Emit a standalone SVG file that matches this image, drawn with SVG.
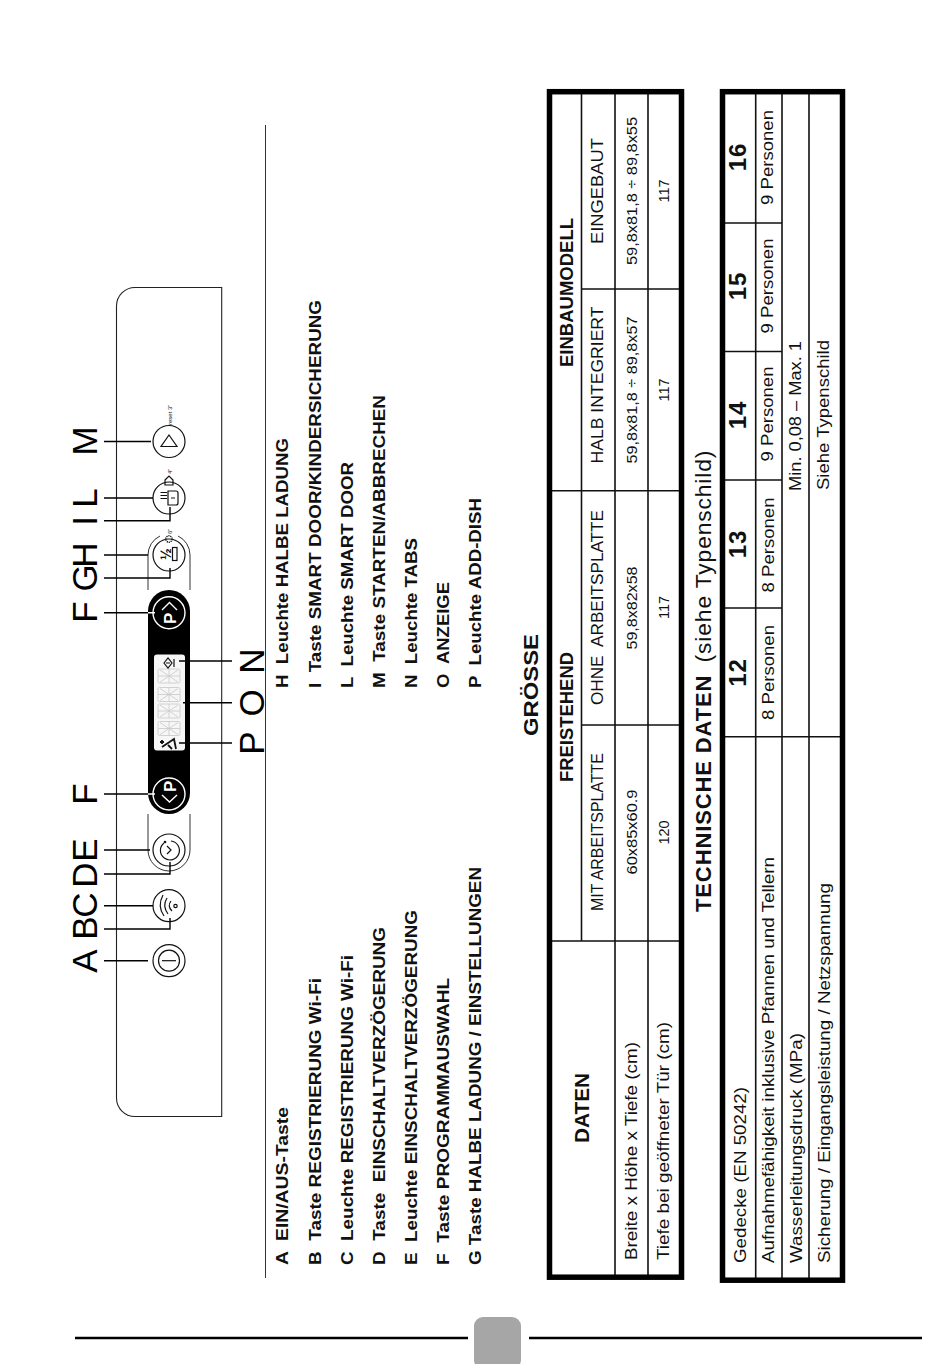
<svg xmlns="http://www.w3.org/2000/svg" width="950" height="1364" viewBox="0 0 950 1364">
<style>
text{font-family:"Liberation Sans",Arial,sans-serif;fill:#111;white-space:pre}
.c{text-anchor:middle}
.b{font-weight:bold}
.big{font-size:35px;text-anchor:middle;fill:#000}
.li{font-size:16.5px;font-weight:bold}
.h{font-size:17.5px;font-weight:bold;text-anchor:middle}
.r{font-size:17px}
.d{font-size:14.5px;text-anchor:middle}
.n{font-size:24px;font-weight:bold;text-anchor:middle;letter-spacing:1px}
.t{font-size:6px}
.ln{fill:none;stroke:#000;stroke-width:1.4}
.tn{fill:none;stroke:#111;stroke-width:1.6}
.tk{fill:none;stroke:#000;stroke-width:5.5}
.bt{fill:#fff;stroke:#111;stroke-width:1.2}
.ic{fill:none;stroke:#111;stroke-width:1.2}
.w{fill:none;stroke:#fff;stroke-width:1.4}
.seg{fill:none;stroke:#cdcdcd;stroke-width:.9}
</style>
<defs>
<g id="digit"><rect x="-11" y="-7" width="22" height="14" rx="1.5" class="seg"/><path d="M-11,0H11M0,-7V7M-9,-6L9,6M-9,6L9,-6" class="seg"/></g>
</defs>
<rect width="950" height="1364" fill="#fff"/>

<g id="page-rule">
<path d="M265.5,125V1278" fill="none" stroke="#333" stroke-width="1"/>
<path d="M75,1338H468M529,1338H922" fill="none" stroke="#000" stroke-width="2.6"/>
<rect x="474" y="1317" width="47" height="52" rx="9" fill="#a6a6a6"/>
</g>

<g id="panel">
<path d="M221.7,287.5H135A18.5,18.5 0 0 0 116.5,306V1098A18.5,18.5 0 0 0 135,1116.5H221.7Z" fill="#fff" stroke="#222" stroke-width="1.1"/>
<path d="M148,590V555A21,21 0 0 1 160,536M178,536A21,21 0 0 1 190,555V590M148,814V850A21,21 0 0 0 190,850V814" fill="none" stroke="#333" stroke-width="1"/>
</g>

<g id="display">
<rect x="148" y="590" width="42" height="224" rx="21" fill="#000"/>
<rect x="154" y="654.5" width="31" height="96" rx="3" fill="#f6f6f6"/>
<use href="#digit" x="169" y="676"/><use href="#digit" x="169" y="694.5"/><use href="#digit" x="169" y="711"/><use href="#digit" x="169" y="728.5"/>
<path d="M164,663L168,658L172,663L168,668ZM174,659V667M166,663H170" class="ic"/>
<path d="M162,747L174,739L176,749M168,745L172,749M160,742H164M162,740V744" fill="none" stroke="#111" stroke-width="1.8"/>
</g>

<g id="btn-M">
<circle cx="169" cy="441.5" r="16" class="bt"/>
<path d="M169,435L177,446.5H161Z" class="ic"/>
<text class="t" transform="translate(172,425) rotate(-90)">reset 3"</text>
</g>
<g id="btn-L">
<circle cx="169" cy="498" r="16" class="bt"/>
<path d="M168,491H176Q178,491 178,493V503Q178,505 176,505H168ZM171,498H175M160.5,492.5H167M160.5,495.5H167M160.5,498.5H167" class="ic"/>
<path d="M165,480L169,476L173,480V485H165Z" class="ic"/>
<text class="t" transform="translate(172,474) rotate(-90)">4"</text>
</g>
<g id="btn-H">
<circle cx="169" cy="555" r="16" class="bt"/>
<text class="b" font-size="14" transform="translate(170.5,560) rotate(-90)">½</text>
<rect x="172.5" y="547.5" width="4.5" height="13" class="ic" stroke-width="1.5"/>
<circle cx="169" cy="539" r="3.2" fill="none" stroke="#111" stroke-width="1.4" stroke-dasharray="1.2 .8"/>
<text class="t" transform="translate(172,534) rotate(-90)">6"</text>
</g>
<g id="btn-F-up">
<circle cx="169" cy="612.7" r="16" class="w"/>
<path d="M162,610L169.5,602.5L177,610" class="w"/>
<text class="b" font-size="17" style="fill:#fff" transform="translate(176,624) rotate(-90)">P</text>
</g>
<g id="btn-F-down">
<circle cx="169" cy="794" r="16" class="w"/>
<path d="M162,795L169.5,802L177,795" class="w"/>
<text class="b" font-size="17" style="fill:#fff" transform="translate(176,792) rotate(-90)">P</text>
</g>
<g id="btn-D">
<circle cx="169" cy="850" r="16" class="bt"/>
<path d="M164,843A9.5,9.5 0 1 0 171,841" class="ic"/>
<circle cx="165" cy="842" r="1.3" fill="#111"/>
<path d="M167,846L171,850L167,854" class="ic"/>
</g>
<g id="btn-B">
<circle cx="169" cy="905.7" r="16" class="bt"/>
<path d="M163,895Q157,906 164,916M167,898Q162,906 168,914M171,901Q167,906 172,911" class="ic"/>
<circle cx="175.5" cy="906" r="1.7" class="ic"/>
</g>
<g id="btn-A">
<circle cx="169" cy="960.7" r="16" class="bt"/>
<circle cx="169" cy="960.7" r="10.5" class="ic"/>
<path d="M162,960.7H176" class="ic"/>
</g>

<g id="connectors">
<path class="ln" d="M104,441.5H151M104,498H153M104,520.7H170V507M104,555H148M104,578H170V568M104,612.7H148M104,794H148M104,850H150M104,874H170V862M104,905.7H153M104,929H170V918M104,960.7H148M179,661H232M183,702.7H232M179,743H232"/>
<path class="w" d="M148,612.7H155M148,794H155"/>
</g>

<g id="callouts">
<text class="big" transform="translate(97,961) rotate(-90)">A</text>
<text class="big" transform="translate(97,928) rotate(-90)">B</text>
<text class="big" transform="translate(97,905) rotate(-90)">C</text>
<text class="big" transform="translate(97,875) rotate(-90)">D</text>
<text class="big" transform="translate(97,850) rotate(-90)">E</text>
<text class="big" transform="translate(97,794) rotate(-90)">F</text>
<text class="big" transform="translate(97,612) rotate(-90)">F</text>
<text class="big" transform="translate(97,578) rotate(-90)">G</text>
<text class="big" transform="translate(97,555) rotate(-90)">H</text>
<text class="big" transform="translate(97,521) rotate(-90)">I</text>
<text class="big" transform="translate(97,498) rotate(-90)">L</text>
<text class="big" transform="translate(97,441) rotate(-90)">M</text>
<text class="big" transform="translate(264,743) rotate(-90)">P</text>
<text class="big" transform="translate(264,703) rotate(-90)">O</text>
<text class="big" transform="translate(264,661) rotate(-90)">N</text>
</g>

<g id="legend">
<text class="li" transform="translate(288,1265) rotate(-90)" textLength="158" lengthAdjust="spacingAndGlyphs">A  EIN/AUS-Taste</text>
<text class="li" transform="translate(320.5,1265) rotate(-90)" textLength="287" lengthAdjust="spacingAndGlyphs">B  Taste REGISTRIERUNG Wi-Fi</text>
<text class="li" transform="translate(352.5,1265) rotate(-90)" textLength="310" lengthAdjust="spacingAndGlyphs">C  Leuchte REGISTRIERUNG Wi-Fi</text>
<text class="li" transform="translate(384.5,1265) rotate(-90)" textLength="338" lengthAdjust="spacingAndGlyphs">D  Taste  EINSCHALTVERZÖGERUNG</text>
<text class="li" transform="translate(416.5,1265) rotate(-90)" textLength="355" lengthAdjust="spacingAndGlyphs">E  Leuchte EINSCHALTVERZÖGERUNG</text>
<text class="li" transform="translate(448.5,1265) rotate(-90)" textLength="287" lengthAdjust="spacingAndGlyphs">F  Taste PROGRAMMAUSWAHL</text>
<text class="li" transform="translate(481,1265) rotate(-90)" textLength="398" lengthAdjust="spacingAndGlyphs">G Taste HALBE LADUNG / EINSTELLUNGEN</text>
<text class="li" transform="translate(288,688) rotate(-90)" textLength="250" lengthAdjust="spacingAndGlyphs">H  Leuchte HALBE LADUNG</text>
<text class="li" transform="translate(320.5,688) rotate(-90)" textLength="388" lengthAdjust="spacingAndGlyphs">I  Taste SMART DOOR/KINDERSICHERUNG</text>
<text class="li" transform="translate(352.5,688) rotate(-90)" textLength="226" lengthAdjust="spacingAndGlyphs">L  Leuchte SMART DOOR</text>
<text class="li" transform="translate(384.5,688) rotate(-90)" textLength="293" lengthAdjust="spacingAndGlyphs">M  Taste STARTEN/ABBRECHEN</text>
<text class="li" transform="translate(416.5,688) rotate(-90)" textLength="150" lengthAdjust="spacingAndGlyphs">N  Leuchte TABS</text>
<text class="li" transform="translate(448.5,688) rotate(-90)" textLength="106" lengthAdjust="spacingAndGlyphs">O  ANZEIGE</text>
<text class="li" transform="translate(481,688) rotate(-90)" textLength="190" lengthAdjust="spacingAndGlyphs">P  Leuchte ADD-DISH</text>
</g>

<g id="table-size">
<path class="tn" d="M581.5,94V941M615,94V1276M648,94V1276M551,941H680M551,490.7H680M581.5,725H680M581.5,289H680"/>
<rect class="tk" x="549.5" y="91.7" width="132" height="1185.5"/>
<text class="h" style="font-size:20px" transform="translate(589,1108) rotate(-90)" textLength="70" lengthAdjust="spacingAndGlyphs">DATEN</text>
<text class="h" transform="translate(573,717) rotate(-90)" textLength="130" lengthAdjust="spacingAndGlyphs">FREISTEHEND</text>
<text class="h" transform="translate(573,292.5) rotate(-90)" textLength="149" lengthAdjust="spacingAndGlyphs">EINBAUMODELL</text>
<text class="r c" transform="translate(603,832) rotate(-90)" textLength="158" lengthAdjust="spacingAndGlyphs">MIT ARBEITSPLATTE</text>
<text class="r c" transform="translate(603,607.5) rotate(-90)" textLength="195" lengthAdjust="spacingAndGlyphs">OHNE  ARBEITSPLATTE</text>
<text class="r c" transform="translate(603,385) rotate(-90)" textLength="157" lengthAdjust="spacingAndGlyphs">HALB INTEGRIERT</text>
<text class="r c" transform="translate(603,191) rotate(-90)" textLength="106" lengthAdjust="spacingAndGlyphs">EINGEBAUT</text>
<text class="d" transform="translate(636.7,832) rotate(-90)" textLength="85" lengthAdjust="spacingAndGlyphs">60x85x60.9</text>
<text class="d" transform="translate(636.7,608) rotate(-90)" textLength="83" lengthAdjust="spacingAndGlyphs">59,8x82x58</text>
<text class="d" transform="translate(636.7,390) rotate(-90)" textLength="147" lengthAdjust="spacingAndGlyphs">59,8x81,8 ÷ 89,8x57</text>
<text class="d" transform="translate(636.7,191) rotate(-90)" textLength="148" lengthAdjust="spacingAndGlyphs">59,8x81,8 ÷ 89,8x55</text>
<text class="d" transform="translate(669,832.5) rotate(-90)">120</text>
<text class="d" transform="translate(669,607.5) rotate(-90)">117</text>
<text class="d" transform="translate(669,390) rotate(-90)">117</text>
<text class="d" transform="translate(669,191) rotate(-90)">117</text>
<text class="r" transform="translate(636.7,1260) rotate(-90)" textLength="218" lengthAdjust="spacingAndGlyphs">Breite x Höhe x Tiefe (cm)</text>
<text class="r" transform="translate(669,1260) rotate(-90)" textLength="238" lengthAdjust="spacingAndGlyphs">Tiefe bei geöffneter Tür (cm)</text>
</g>

<g id="headings">
<text class="b c" font-size="21" transform="translate(538,685) rotate(-90)" textLength="102" lengthAdjust="spacingAndGlyphs">GRÖSSE</text>
<text transform="translate(710.7,912) rotate(-90)" font-size="22" letter-spacing=".88"><tspan class="b">TECHNISCHE DATEN</tspan><tspan dx="5" font-size="22.8"> (siehe Typenschild)</tspan></text>
</g>

<g id="table-tech">
<path class="tn" d="M755.7,94V1279M782,94V1279M809,94V1279M725,223H782M725,351.5H782M725,480H782M725,608H782M725,736.7H842"/>
<rect class="tk" x="722.5" y="91.7" width="120" height="1188.5"/>
<text class="r" transform="translate(745.7,1263) rotate(-90)" textLength="176" lengthAdjust="spacingAndGlyphs">Gedecke (EN 50242)</text>
<text class="r" transform="translate(774,1263) rotate(-90)" textLength="406" lengthAdjust="spacingAndGlyphs">Aufnahmefähigkeit inklusive Pfannen und Tellern</text>
<text class="r" transform="translate(801.7,1263) rotate(-90)" textLength="230" lengthAdjust="spacingAndGlyphs">Wasserleitungsdruck (MPa)</text>
<text class="r" transform="translate(830,1263) rotate(-90)" textLength="380" lengthAdjust="spacingAndGlyphs">Sicherung / Eingangsleistung / Netzspannung</text>
<text class="n" transform="translate(746,672.5) rotate(-90)">12</text>
<text class="n" transform="translate(746,544) rotate(-90)">13</text>
<text class="n" transform="translate(746,415) rotate(-90)">14</text>
<text class="n" transform="translate(746,286) rotate(-90)">15</text>
<text class="n" transform="translate(746,157) rotate(-90)">16</text>
<text class="r c" transform="translate(774,672.5) rotate(-90)" textLength="95" lengthAdjust="spacingAndGlyphs">8 Personen</text>
<text class="r c" transform="translate(774,545) rotate(-90)" textLength="95" lengthAdjust="spacingAndGlyphs">8 Personen</text>
<text class="r c" transform="translate(773,414) rotate(-90)" textLength="95" lengthAdjust="spacingAndGlyphs">9 Personen</text>
<text class="r c" transform="translate(773,286) rotate(-90)" textLength="95" lengthAdjust="spacingAndGlyphs">9 Personen</text>
<text class="r c" transform="translate(773,157.5) rotate(-90)" textLength="95" lengthAdjust="spacingAndGlyphs">9 Personen</text>
<text class="r c" transform="translate(800.7,416) rotate(-90)" textLength="150" lengthAdjust="spacingAndGlyphs">Min. 0,08 – Max. 1</text>
<text class="r c" transform="translate(829,415) rotate(-90)" textLength="150" lengthAdjust="spacingAndGlyphs">Siehe Typenschild</text>
</g>
</svg>
